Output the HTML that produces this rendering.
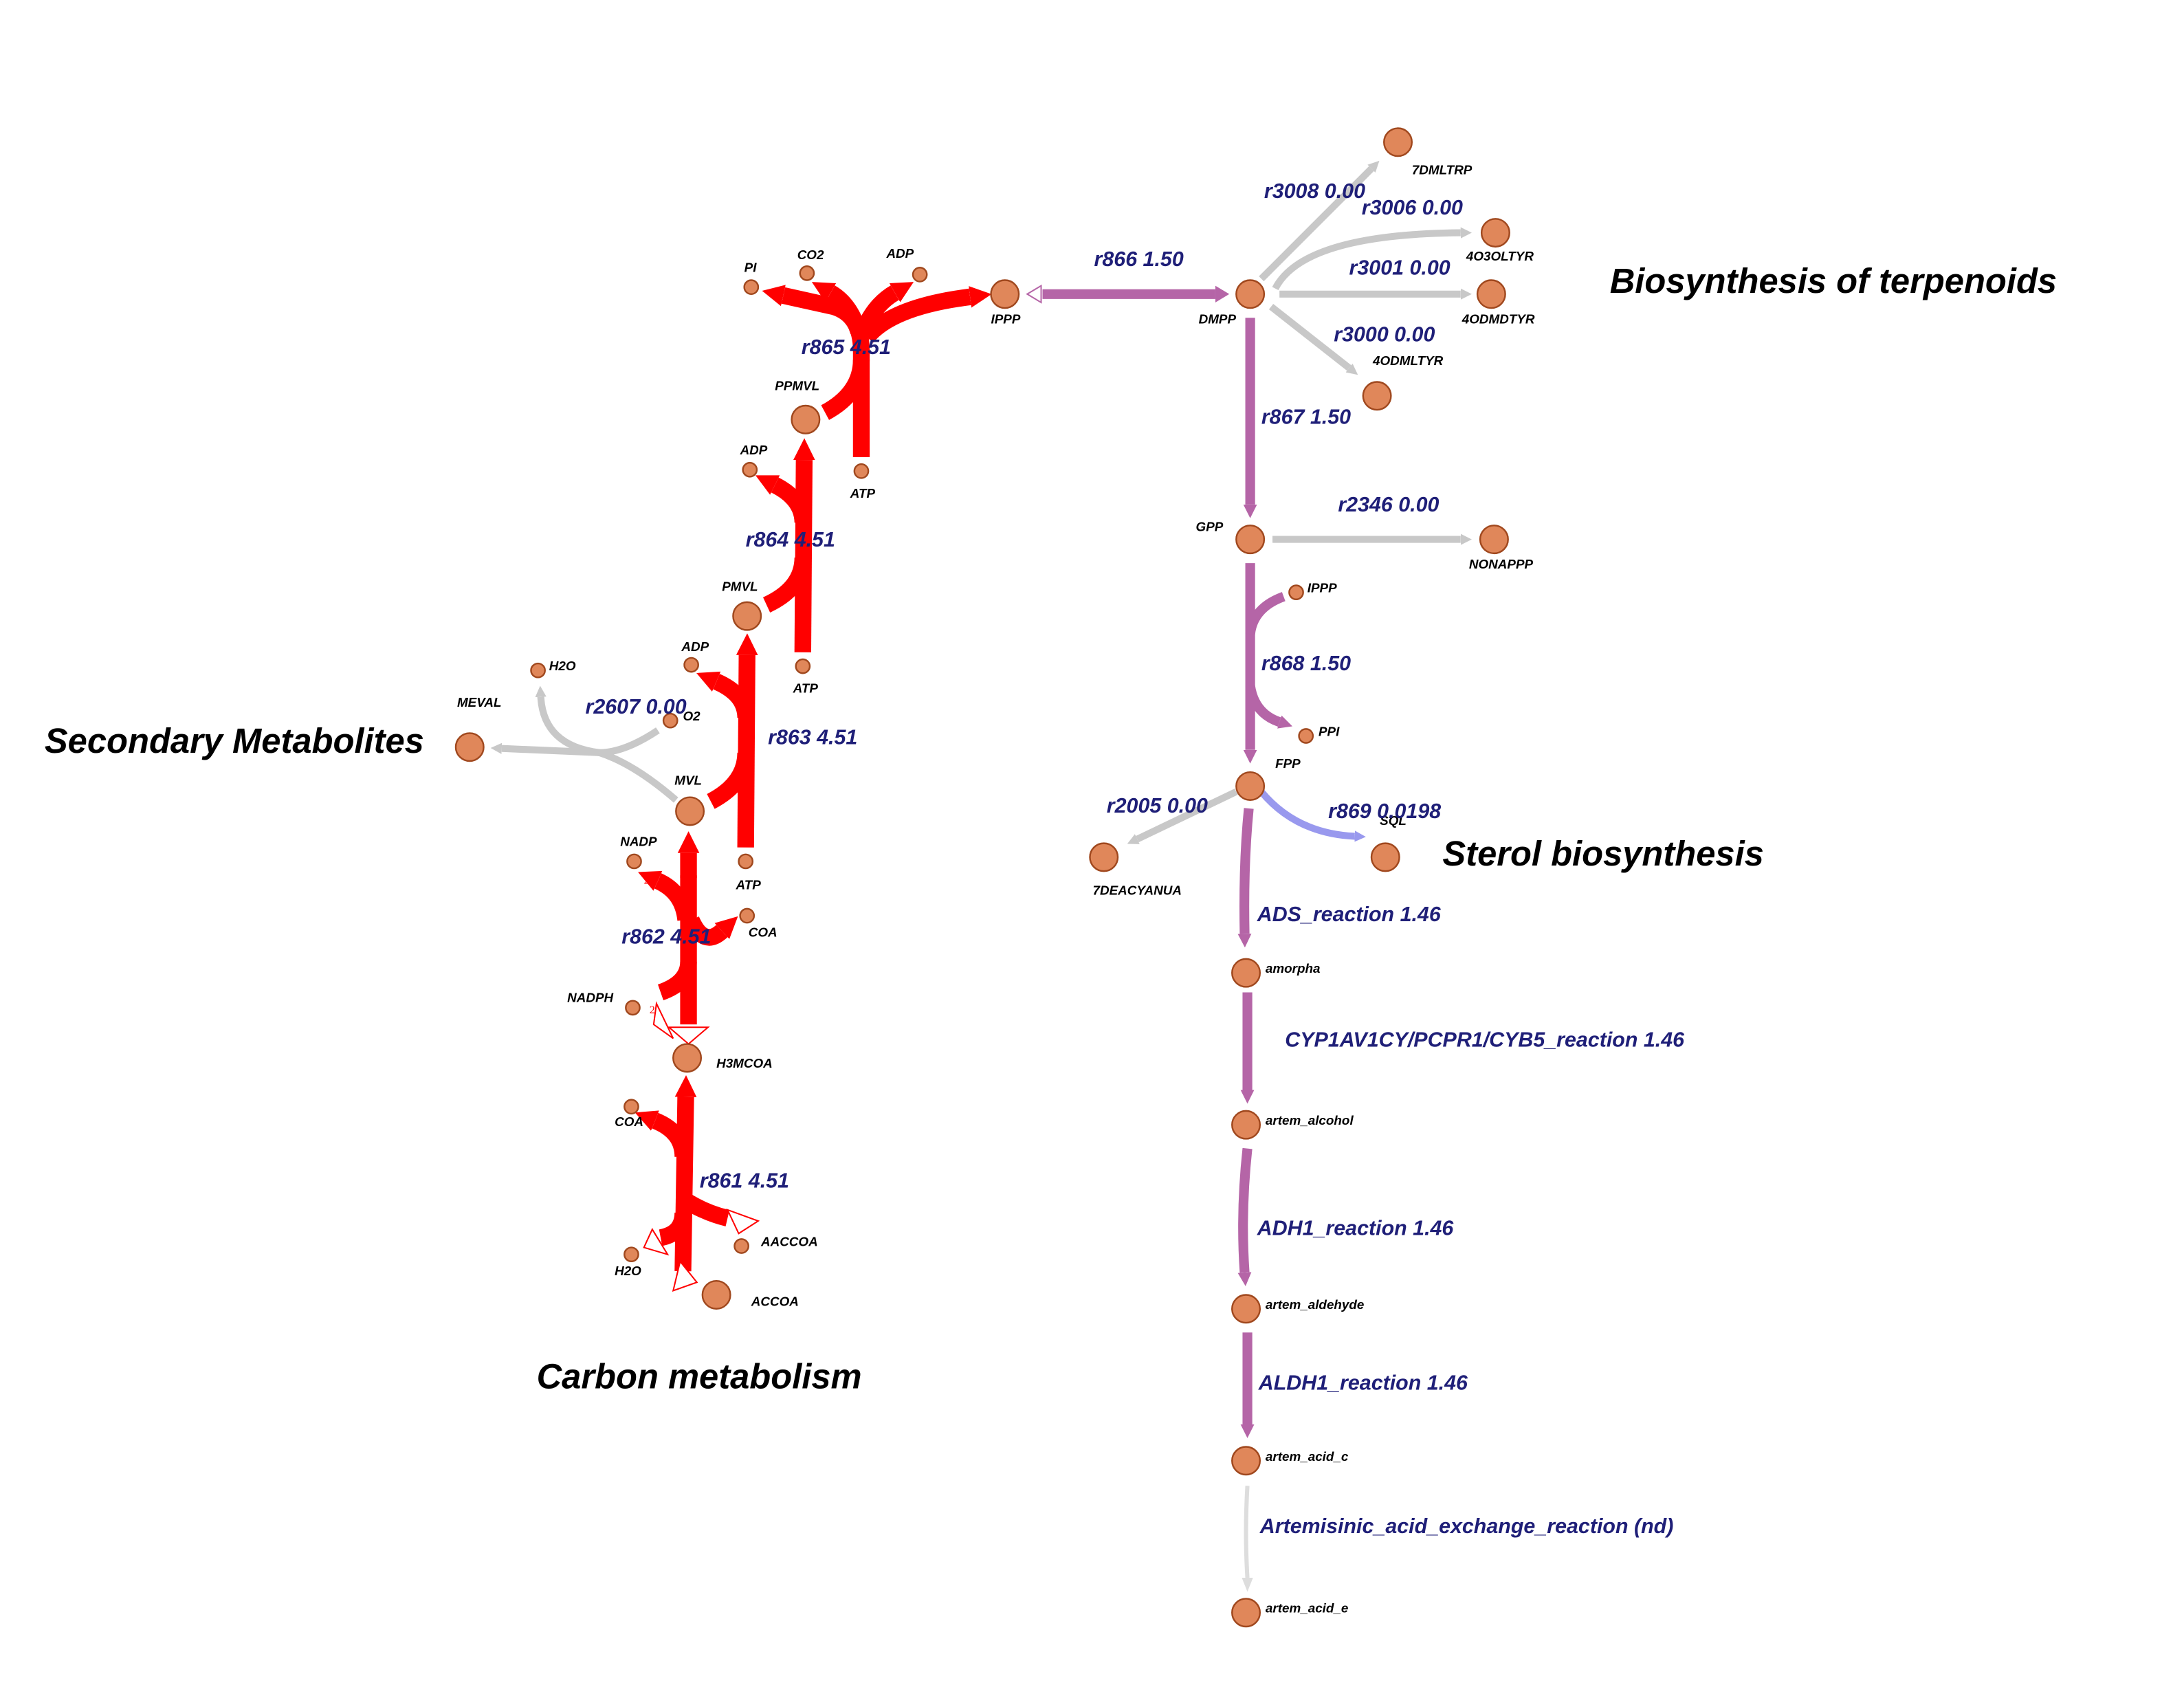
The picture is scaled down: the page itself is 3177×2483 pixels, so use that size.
<!DOCTYPE html>
<html><head><meta charset="utf-8"><style>
html,body{margin:0;padding:0;background:#fff;}
svg{display:block;}
.n{fill:#e0875a;stroke:#a0481e;stroke-width:1.2;}
.nl{font-family:"Liberation Sans",sans-serif;font-style:italic;font-weight:bold;font-size:9.3px;fill:#000;}
.rl{font-family:"Liberation Sans",sans-serif;font-style:italic;font-weight:bold;font-size:15px;fill:#1f1f78;}
.tt{font-family:"Liberation Sans",sans-serif;font-style:italic;font-weight:bold;font-size:25px;fill:#000;}
.r{fill:none;stroke:#ff0000;stroke-width:12;marker-end:url(#hr);}
.rn{fill:none;stroke:#ff0000;stroke-width:12;}
.p{fill:none;stroke:#b565a7;stroke-width:7;marker-end:url(#hp);}
.pn{fill:none;stroke:#b565a7;stroke-width:7;}
.g{fill:none;stroke:#c8c8c8;stroke-width:5;marker-end:url(#hg);}
.gn{fill:none;stroke:#c8c8c8;stroke-width:5;}
</style></head><body>
<svg width="3177" height="2483" viewBox="0 0 1567 1224.7" xmlns="http://www.w3.org/2000/svg">
<defs>
<marker id="hr" viewBox="0 0 10 10" refX="0" refY="5" markerWidth="1.3" markerHeight="2.8" orient="auto" markerUnits="strokeWidth"><path d="M0,0L10,5L0,10z" fill="#ff0000"/></marker>
<marker id="hp" viewBox="0 0 10 10" refX="0" refY="5" markerWidth="1.4" markerHeight="2.2" orient="auto" markerUnits="strokeWidth"><path d="M0,0L10,5L0,10z" fill="#b565a7"/></marker>
<marker id="hg" viewBox="0 0 10 10" refX="0" refY="5" markerWidth="1.6" markerHeight="2.2" orient="auto" markerUnits="strokeWidth"><path d="M0,0L10,5L0,10z" fill="#c8c8c8"/></marker>
<marker id="hb" viewBox="0 0 10 10" refX="0" refY="5" markerWidth="1.6" markerHeight="2.2" orient="auto" markerUnits="strokeWidth"><path d="M0,0L10,5L0,10z" fill="#9999ee"/></marker>
</defs>

<!-- r865 -->
<path class="rn" d="M618,328 L618,250"/>
<path class="rn" d="M592,296 Q618,282 618,258"/>
<path class="r" d="M618,252 Q618,226 598,220 L562,212"/>
<path class="r" d="M616,238 Q610,218 596,210"/>
<path class="r" d="M620,236 Q628,218 642,210"/>
<path class="r" d="M622,242 Q640,220 696,213"/>
<!-- r864 -->
<path class="r" d="M576,468 L577,330"/>
<path class="r" d="M576,375 Q576,358 556,348"/>
<path class="rn" d="M550,434 Q576,422 576,400"/>
<!-- r863 -->
<path class="r" d="M535,608 L536,470"/>
<path class="r" d="M535,515 Q535,498 514,489"/>
<path class="rn" d="M510,575 Q535,562 535,540"/>
<!-- r862 -->
<path class="rn" d="M494,735 L494,628"/>
<path class="r" d="M494,630 L494,612"/>
<path class="r" d="M492,660 Q490,640 472,632"/>
<path class="r" d="M496,660 Q505,680 518,668"/>
<path class="rn" d="M494,690 Q494,705 474,712"/>
<polygon points="469,735 483,745 471,720" fill="#fff" stroke="#ff0000" stroke-width="1"/>
<polygon points="480,737 508,737 494,749" fill="#fff" stroke="#ff0000" stroke-width="1"/>
<text x="462" y="634" font-size="8" fill="#ff0000" font-family="Liberation Serif,serif">2</text>
<text x="466" y="727" font-size="8" fill="#ff0000" font-family="Liberation Serif,serif">2</text>
<!-- r861 -->
<path class="r" d="M490,912 L492,787"/>
<path class="r" d="M490,830 Q490,812 470,804"/>
<path class="rn" d="M490,860 Q505,870 522,874"/>
<path class="rn" d="M490,870 Q490,885 474,888"/>
<polygon points="522,868 544,876 530,885" fill="#fff" stroke="#ff0000" stroke-width="1"/>
<polygon points="462,895 479,900 468,882" fill="#fff" stroke="#ff0000" stroke-width="1"/>
<polygon points="483,926 500,920 488,905" fill="#fff" stroke="#ff0000" stroke-width="1"/>
<!-- r2607 -->
<path class="gn" d="M485,574 Q455,548 430,540"/>
<path class="gn" d="M472,524 Q448,540 430,540"/>
<path class="g" d="M430,540 L360,537"/>
<path class="g" d="M430,540 Q390,535 388,500"/>

<!-- purple main -->
<path class="pn" d="M748,211 L872,211"/>
<path d="M872,205 L882,211 L872,217z" fill="#b565a7"/>
<polygon points="747,205 737,211 747,217" fill="#fff" stroke="#b565a7" stroke-width="1"/>
<path class="p" d="M897,228 L897,362"/>
<path class="p" d="M897,404 L897,538"/>
<path class="pn" d="M921,428 Q899,436 897,455"/>
<path class="p" d="M897,492 Q900,512 918,518"/>
<path class="p" d="M896,580 Q892,620 893,670"/>
<path class="p" d="M895,712 L895,782"/>
<path class="p" d="M895,824 Q890,870 893,913"/>
<path class="p" d="M895,956 L895,1022"/>
<path d="M895,1066 Q893,1100 895,1132" fill="none" stroke="#dddddd" stroke-width="3"/>
<path d="M891,1132 L895,1142 L899,1132z" fill="#dddddd"/>
<!-- gray branches -->
<path class="g" d="M905,200 L984,121"/>
<path class="g" d="M915,207 Q935,168 1048,167"/>
<path class="g" d="M918,211 L1048,211"/>
<path class="g" d="M912,220 L968,264"/>
<path class="g" d="M913,387 L1048,387"/>
<path class="g" d="M887,568 L816,602"/>
<path d="M905,568 Q930,598 972,600" fill="none" stroke="#9999ee" stroke-width="5" marker-end="url(#hb)"/>

<!-- nodes -->
<circle class="n" cx="721" cy="211" r="10"/><circle class="n" cx="897" cy="211" r="10"/>
<circle class="n" cx="539" cy="206" r="5"/><circle class="n" cx="579" cy="196" r="5"/>
<circle class="n" cx="660" cy="197" r="5"/><circle class="n" cx="578" cy="301" r="10"/>
<circle class="n" cx="618" cy="338" r="5"/><circle class="n" cx="538" cy="337" r="5"/>
<circle class="n" cx="536" cy="442" r="10"/><circle class="n" cx="576" cy="478" r="5"/>
<circle class="n" cx="496" cy="477" r="5"/><circle class="n" cx="386" cy="481" r="5"/>
<circle class="n" cx="481" cy="517" r="5"/><circle class="n" cx="337" cy="536" r="10"/>
<circle class="n" cx="495" cy="582" r="10"/><circle class="n" cx="535" cy="618" r="5"/>
<circle class="n" cx="455" cy="618" r="5"/><circle class="n" cx="536" cy="657" r="5"/>
<circle class="n" cx="454" cy="723" r="5"/><circle class="n" cx="493" cy="759" r="10"/>
<circle class="n" cx="453" cy="794" r="5"/><circle class="n" cx="532" cy="894" r="5"/>
<circle class="n" cx="453" cy="900" r="5"/><circle class="n" cx="514" cy="929" r="10"/>
<circle class="n" cx="1003" cy="102" r="10"/><circle class="n" cx="1073" cy="167" r="10"/>
<circle class="n" cx="1070" cy="211" r="10"/><circle class="n" cx="988" cy="284" r="10"/>
<circle class="n" cx="897" cy="387" r="10"/><circle class="n" cx="1072" cy="387" r="10"/>
<circle class="n" cx="930" cy="425" r="5"/><circle class="n" cx="937" cy="528" r="5"/>
<circle class="n" cx="897" cy="564" r="10"/><circle class="n" cx="792" cy="615" r="10"/>
<circle class="n" cx="994" cy="615" r="10"/><circle class="n" cx="894" cy="698" r="10"/>
<circle class="n" cx="894" cy="807" r="10"/><circle class="n" cx="894" cy="939" r="10"/>
<circle class="n" cx="894" cy="1048" r="10"/><circle class="n" cx="894" cy="1157" r="10"/>

<!-- node labels -->
<g class="nl">
<text x="534" y="195">PI</text><text x="572" y="186">CO2</text><text x="636" y="185">ADP</text>
<text x="711" y="232">IPPP</text><text x="860" y="232">DMPP</text><text x="556" y="280">PPMVL</text>
<text x="610" y="357">ATP</text><text x="531" y="326">ADP</text><text x="518" y="424">PMVL</text>
<text x="569" y="497">ATP</text><text x="489" y="467">ADP</text><text x="394" y="481">H2O</text>
<text x="490" y="517">O2</text><text x="328" y="507">MEVAL</text><text x="484" y="563">MVL</text>
<text x="528" y="638">ATP</text><text x="445" y="607">NADP</text><text x="537" y="672">COA</text>
<text x="407" y="719">NADPH</text><text x="514" y="766">H3MCOA</text><text x="441" y="808">COA</text>
<text x="546" y="894">AACCOA</text><text x="441" y="915">H2O</text><text x="539" y="937">ACCOA</text>
<text x="1013" y="125">7DMLTRP</text><text x="1052" y="187">4O3OLTYR</text><text x="1049" y="232">4ODMDTYR</text>
<text x="985" y="262">4ODMLTYR</text><text x="858" y="381">GPP</text><text x="1054" y="408">NONAPPP</text>
<text x="938" y="425">IPPP</text><text x="946" y="528">PPI</text><text x="915" y="551">FPP</text>
<text x="784" y="642">7DEACYANUA</text><text x="990" y="592">SQL</text>
<text x="908" y="698">amorpha</text><text x="908" y="807">artem_alcohol</text><text x="908" y="939">artem_aldehyde</text>
<text x="908" y="1048">artem_acid_c</text><text x="908" y="1157">artem_acid_e</text>
</g>
<!-- reaction labels -->
<g class="rl">
<text x="785" y="191">r866 1.50</text><text x="575" y="254">r865 4.51</text><text x="535" y="392">r864 4.51</text>
<text x="551" y="534">r863 4.51</text><text x="420" y="512">r2607 0.00</text><text x="446" y="677">r862 4.51</text>
<text x="502" y="852">r861 4.51</text><text x="907" y="142">r3008 0.00</text><text x="977" y="154">r3006 0.00</text>
<text x="968" y="197">r3001 0.00</text><text x="957" y="245">r3000 0.00</text><text x="905" y="304">r867 1.50</text>
<text x="960" y="367">r2346 0.00</text><text x="905" y="481">r868 1.50</text><text x="794" y="583">r2005 0.00</text>
<text x="953" y="587">r869 0.0198</text><text x="902" y="661">ADS_reaction 1.46</text>
<text x="922" y="751">CYP1AV1CY/PCPR1/CYB5_reaction 1.46</text><text x="902" y="886">ADH1_reaction 1.46</text>
<text x="903" y="997">ALDH1_reaction 1.46</text><text x="904" y="1100">Artemisinic_acid_exchange_reaction (nd)</text>
</g>
<g class="tt">
<text x="1155" y="210">Biosynthesis of terpenoids</text>
<text x="32" y="540">Secondary Metabolites</text>
<text x="1035" y="621">Sterol biosynthesis</text>
<text x="385" y="996">Carbon metabolism</text>
</g>
</svg>
</body></html>
